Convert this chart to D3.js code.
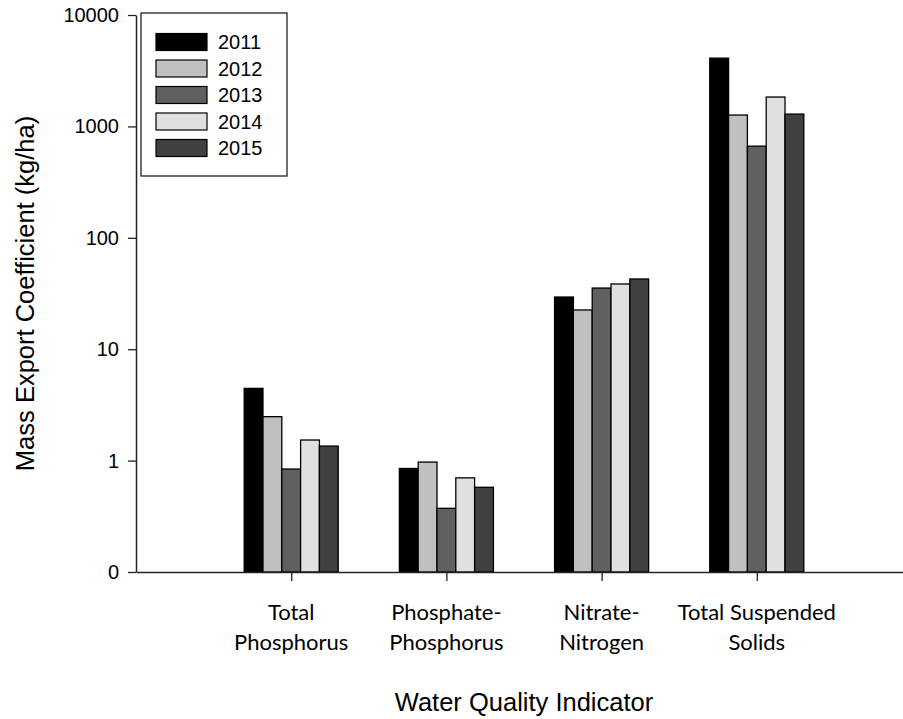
<!DOCTYPE html>
<html>
<head>
<meta charset="utf-8">
<script src="https://cdn.jsdelivr.net/npm/d3@7"></script>
<style>
  body { margin: 0; background: #fff; }
  svg { display: block; }
</style>
</head>
<body>
<div id="chart"></div>
<script>
// data (kg/ha, log axis)
const categories = [["Total", "Phosphorus"], ["Phosphate-", "Phosphorus"], ["Nitrate-", "Nitrogen"], ["Total Suspended", "Solids"]];
const years = ["2011", "2012", "2013", "2014", "2015"];
const yearColors = ["#000000", "#c0c0c0", "#606060", "#e0e0e0", "#404040"];
const values2011 = [4.45, 0.85, 29.4, 4100];
const values2012 = [2.48, 0.97, 22.5, 1265];
const values2013 = [0.84, 0.373, 35.4, 665];
const values2014 = [1.53, 0.70, 38.5, 1835];
const values2015 = [1.35, 0.576, 42.7, 1290];
const series = [values2011, values2012, values2013, values2014, values2015];
const yTicks = [0.1, 1, 10, 100, 1000, 10000];
const yTickLabels = ["0", "1", "10", "100", "1000", "10000"];

const W = 903, H = 719;
const plotL = 136, plotR = 912, plotT = 15, plotB = 572;

const svg = d3.select("#chart").append("svg")
  .attr("width", W).attr("height", H);

// x is a numeric axis 0..5, the groups sit at 1..4
const x = d3.scaleLinear().domain([0, 5]).range([plotL, plotR]);
const y = d3.scaleLog().domain([0.1, 10000]).range([plotB, plotT]);
const barW = x(0.1212) - x(0); // ~18.8px each

// bars
series.forEach((vals, si) => {
  svg.append("g")
    .selectAll("rect")
    .data(vals)
    .join("rect")
      .attr("x", (d, i) => x(i + 1) - 2.5 * barW + si * barW)
      .attr("y", d => y(d))
      .attr("width", barW)
      .attr("height", d => y(0.1) - y(d))
      .attr("fill", yearColors[si])
      .attr("stroke", "#000")
      .attr("stroke-width", 1.3);
});

// y axis
const yAxis = svg.append("g")
  .attr("transform", `translate(${plotL},0)`)
  .call(d3.axisLeft(y).tickValues(yTicks).tickSize(8).tickSizeOuter(0).tickPadding(9)
    .tickFormat((d, i) => yTickLabels[i]));
yAxis.select(".domain").attr("stroke", "#222").attr("stroke-width", 1.5);
yAxis.selectAll(".tick line").attr("stroke", "#222").attr("stroke-width", 1.3);
yAxis.selectAll("text")
  .attr("font-family", "Liberation Sans, Arial, sans-serif")
  .attr("font-size", 20).attr("fill", "#000");

// x axis
const xAxis = svg.append("g")
  .attr("transform", `translate(0,${plotB})`)
  .call(d3.axisBottom(x).tickValues([1, 2, 3, 4]).tickSize(9).tickSizeOuter(0).tickFormat(""));
xAxis.select(".domain").attr("stroke", "#222").attr("stroke-width", 1.5);
xAxis.selectAll(".tick line").attr("stroke", "#222").attr("stroke-width", 1.3);

// category labels, two lines each
const catText = svg.append("g")
  .selectAll("text")
  .data(categories)
  .join("text")
    .attr("x", (d, i) => x(i + 1))
    .attr("y", 620)
    .attr("text-anchor", "middle")
    .attr("font-family", "Lato, 'Open Sans', sans-serif")
    .attr("font-size", 22)
    .attr("fill", "#000");
catText.selectAll("tspan")
  .data(d => d)
  .join("tspan")
    .attr("x", function() { return d3.select(this.parentNode).attr("x"); })
    .attr("dy", (d, i) => i === 0 ? 0 : 29.5)
    .text(d => d);

// axis titles
svg.append("text")
  .attr("x", (plotL + plotR) / 2)
  .attr("y", 711)
  .attr("text-anchor", "middle")
  .attr("font-family", "Liberation Sans, Arial, sans-serif")
  .attr("font-size", 25.5)
  .text("Water Quality Indicator");

svg.append("text")
  .attr("transform", `translate(34,${(plotT + plotB) / 2}) rotate(-90)`)
  .attr("text-anchor", "middle")
  .attr("font-family", "Liberation Sans, Arial, sans-serif")
  .attr("font-size", 25.5)
  .text("Mass Export Coefficient (kg/ha)");

// legend
const legend = svg.append("g");
legend.append("rect")
  .attr("x", 141).attr("y", 13).attr("width", 146).attr("height", 163)
  .attr("fill", "#fff").attr("stroke", "#222").attr("stroke-width", 1.3);
const rows = legend.selectAll("g.row")
  .data(years)
  .join("g")
    .attr("class", "row")
    .attr("transform", (d, i) => `translate(0,${42 + i * 26.5})`);
rows.append("rect")
  .attr("x", 156).attr("y", -8.5).attr("width", 51).attr("height", 17)
  .attr("fill", (d, i) => yearColors[i])
  .attr("stroke", "#000").attr("stroke-width", 1.2);
rows.append("text")
  .attr("x", 218).attr("y", 7)
  .attr("font-family", "Liberation Sans, Arial, sans-serif")
  .attr("font-size", 20)
  .text(d => d);
</script>
</body>
</html>
